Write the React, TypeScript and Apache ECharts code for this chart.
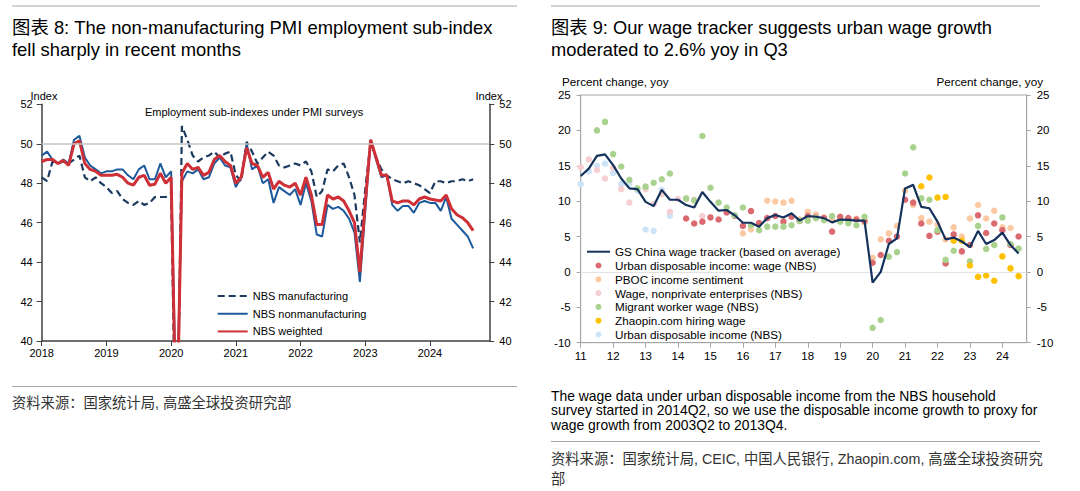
import React, { useEffect, useRef } from "react";
import * as echarts from "echarts";

// ---------- Chart 8 data (monthly, Jan 2018 - Sep 2024) ----------
const pmiYears = [2018, 2019, 2020, 2021, 2022, 2023, 2024];
const pmiMonths = pmiYears.flatMap((y) =>
  Array.from({ length: 12 }, (_, i) => `${y}-${String(i + 1).padStart(2, "0")}`)
);

const nbsManufacturing = [
  48.3, 48.1, 49.1, 49.0, 49.1, 49.0, 49.2, 49.4, 48.3, 48.1, 48.3, 48.0,
  47.8, 47.5, 47.6, 47.2, 47.0, 46.9, 47.1, 46.9, 47.0, 47.3, 47.3, 47.3,
  47.5, 31.8, 50.9, 50.2, 49.4, 49.1, 49.3, 49.4, 49.6, 49.3, 49.5, 49.6,
  48.4, 48.1, 50.1, 49.6, 49.0, 49.3, 49.6, 49.4, 48.9, 48.8, 48.9, 49.0,
  48.9, 49.1, 48.6, 47.3, 47.6, 48.7, 48.6, 48.9, 49.0, 48.3, 47.4, 45.0,
  47.7, 50.1, 49.3, 48.7, 48.4, 48.2, 48.1, 48.0, 48.1, 48.0, 47.9, 47.7,
  47.5, 48.1, 48.1, 48.0, 48.1, 48.1, 48.2, 48.1, 48.2,
];
const nbsNonmanufacturing = [
  49.4, 49.6, 49.2, 49.0, 49.2, 49.0, 50.2, 50.4, 49.3, 48.9, 48.7, 48.5,
  48.6, 48.6, 48.7, 48.7, 48.4, 48.2, 48.7, 48.9, 48.2, 48.2, 49.0, 48.3,
  48.6, 35.7, 48.1, 48.6, 48.5, 48.7, 48.2, 48.3, 49.0, 49.3, 48.9, 48.8,
  47.8, 48.3, 50.0, 48.7, 48.9, 48.0, 48.2, 47.0, 47.8, 47.6, 47.4, 47.7,
  46.9, 48.0, 47.1, 45.4, 45.3, 46.9, 46.7, 46.8, 46.6, 46.2, 45.5, 43.0,
  46.6, 50.2, 49.2, 48.3, 48.4, 46.9, 46.6, 46.85, 46.85, 46.5, 47.0, 47.1,
  47.0, 47.0, 46.6, 47.3, 46.2, 45.9, 45.6, 45.3, 44.7,
];
const nbsWeighted = [
  49.1, 49.2, 49.2, 49.0, 49.15, 48.9, 50.0, 50.15, 49.0, 48.7, 48.6, 48.4,
  48.4, 48.4, 48.45, 48.3, 48.0, 47.9, 48.3, 48.4, 47.9, 47.95, 48.5, 48.0,
  48.3, 34.5, 48.5, 49.0, 48.7, 48.8, 48.4, 48.55, 49.2, 49.4, 49.1, 48.9,
  48.0, 48.3, 49.8, 49.0, 48.9, 48.3, 48.55, 47.7, 48.1, 47.9, 47.8, 48.0,
  47.4, 48.3, 47.4, 45.9, 45.9, 47.4, 47.2, 47.3, 47.1, 46.6, 46.0, 43.5,
  47.0, 50.2, 49.3, 48.4, 48.4, 47.1, 47.0, 47.1, 47.1, 46.9, 47.2, 47.3,
  47.2, 47.15, 47.1, 47.4, 46.7, 46.4, 46.25, 46.0, 45.6,
];

// ---------- Chart 9 data (quarterly, 2011Q1 - 2024Q3) ----------
const wageYears = [2011, 2012, 2013, 2014, 2015, 2016, 2017, 2018, 2019, 2020, 2021, 2022, 2023, 2024];
const wageQuarters = wageYears.flatMap((y) => [1, 2, 3, 4].map((q) => `${y}Q${q}`));

const wageTracker = [
  13.55, 14.6, 16.4, 16.6, 15.1, 13.2, 11.8, 11.7, 9.9, 9.3,
  11.6, 10.2, 10.2, 9.45, 9.1, 11.3, 9.9, 8.65, 8.75, 8.0,
  6.95, 6.95, 6.4, 7.6, 8.05, 7.7, 8.3, 7.25, 7.9, 7.8,
  7.6, 7.0, 7.4, 7.35, 7.25, 7.25, -1.5, 0.0, 3.95, 4.75,
  11.8, 12.3, 9.2, 9.0, 7.1, 4.6, 4.85, 4.3, 3.5, 5.8,
  3.95, 4.5, 5.55, 3.8, 2.6,
];
const urbanWageNbs = [
  null, null, null, null, null, null, null, null, null, null,
  null, null, null, 7.55, 6.85, 7.1, 7.7, 7.4, 8.4, 7.9,
  6.5, 8.6, 6.9, 7.6, 7.9, 7.1, 7.8, 7.2, 7.9, 7.7,
  7.6, 5.7, 7.8, 7.6, 7.4, 7.2, 1.3, 2.4, 4.4, 5.0,
  10.2, 9.8, 6.85, 5.1, 5.7, 1.2, 5.3, 2.9, 3.8, 8.0,
  5.5, 6.85, 5.9, 3.8, 5.0,
];
const pbocIncomeSentiment = [
  null, null, null, null, null, null, null, null, null, null,
  null, null, null, null, null, null, null, null, null, null,
  5.45, 6.0, 6.85, 10.05, 9.95, 9.8, 10.05, 7.4, 8.5, 8.1,
  7.7, 7.3, 7.6, 7.55, 7.5, 7.0, 2.0, 4.6, 5.45, 6.5,
  11.5, 9.45, 7.6, 7.1, 6.7, 4.6, 6.3, 5.0, 7.55, 9.45,
  7.55, 8.65, 6.3, 6.2, null,
];
const nonprivateWage = [
  14.8, 15.9, 14.4, 13.2, 14.7, 11.7, 9.8, null, 11.7, 9.6,
  11.0, 8.5, 10.3, 10.3, 10.2, 7.9,
];
const migrantWage = [
  null, null, 20.0, 21.2, 16.65, 14.9, 13.0, 11.8, 12.05, 12.6,
  13.1, 13.9, null, 10.4, 10.1, 19.2, 11.9, 9.8, 9.1, 8.0,
  9.1, 6.6, 5.9, 6.4, 6.4, 6.4, 6.6, 7.2, 7.25, 7.6,
  7.3, 7.9, 7.1, 6.9, 6.6, 7.8, -7.9, -6.8, 2.15, 2.8,
  13.9, 17.6, 10.4, 10.2, 5.9, 1.7, 3.0, null, 1.5, 6.5,
  3.25, 3.8, 7.7, 3.95, 3.3,
];
const zhaopinWage = [
  null, null, null, null, null, null, null, null, null, null,
  null, null, null, null, null, null, null, null, null, null,
  null, null, null, null, null, null, null, null, null, null,
  null, null, null, null, null, null, null, null, null, null,
  null, null, 12.1, 13.35, 10.5, 10.6, 4.4, 4.4, 0.9, -0.7,
  -0.5, -1.25, 2.2, 0.5, -0.6,
];
const urbanDisposableIncome = [12.4, 14.2, 15.0, 15.3, 14.0, 12.4, 12.5, 11.5, 6.0, 5.8, 11.6, 7.9];

const FONT = '"Liberation Sans", Arial, "Noto Sans CJK SC", sans-serif';
const toData = (arr: (number | null)[]) => arr.map((v) => (v === null ? "-" : v));

export default function App() {
  const ref = useRef<HTMLDivElement>(null);

  useEffect(() => {
    if (!ref.current) return;
    const chart = echarts.init(ref.current, undefined, { renderer: "svg" });

    const darkAxis = "#3f3f3f";
    const grayAxis = "#a6a6a6";

    const scatter = (name: string, data: (number | null)[], color: string, extra: any = {}) => ({
      name,
      type: "scatter",
      xAxisIndex: 1,
      yAxisIndex: 2,
      data: toData(data),
      symbol: "circle",
      symbolSize: 6.5,
      itemStyle: { color, opacity: 1 },
      emphasis: { disabled: true },
      ...extra,
    });

    const text = (t: string, x: number, y: number, size: number, extra: any = {}) => ({
      type: "text",
      x,
      y,
      silent: true,
      style: {
        text: t,
        fontSize: size,
        fontFamily: FONT,
        fill: "#000",
        verticalAlign: "middle",
        ...extra,
      },
    });
    const rule = (x1: number, x2: number, y: number) => ({
      type: "line",
      silent: true,
      shape: { x1, y1: y, x2, y2: y },
      style: { stroke: "#a6a6a6", lineWidth: 1 },
    });
    const noSymbol = { opacity: 0 };

    const option: any = {
      animation: false,
      backgroundColor: "#fff",
      textStyle: { fontFamily: FONT },
      grid: [
        { left: 41.7, top: 104.3, width: 447.6, height: 236.7 },
        {
          left: 580.7,
          top: 95,
          width: 446,
          height: 247.7,
          show: true,
          borderColor: grayAxis,
          borderWidth: 1,
        },
      ],
      xAxis: [
        {
          gridIndex: 0,
          type: "category",
          data: pmiMonths,
          boundaryGap: false,
          axisLine: { lineStyle: { color: darkAxis, width: 1.5 } },
          axisTick: { interval: (i: number) => i % 12 === 0, length: 5, lineStyle: { color: darkAxis } },
          axisLabel: {
            interval: (i: number) => i % 12 === 0,
            formatter: (v: string) => v.slice(0, 4),
            fontSize: 11,
            color: "#000",
            margin: 6,
            fontFamily: FONT,
          },
          splitLine: { show: false },
        },
        {
          gridIndex: 1,
          type: "category",
          data: wageQuarters,
          boundaryGap: false,
          axisLine: { onZero: false, lineStyle: { color: grayAxis, width: 1 } },
          axisTick: { interval: (i: number) => i % 4 === 0, length: 5, lineStyle: { color: grayAxis } },
          axisLabel: {
            interval: (i: number) => i % 4 === 0,
            formatter: (v: string) => v.slice(2, 4),
            fontSize: 11.5,
            color: "#000",
            margin: 8,
            fontFamily: FONT,
          },
          splitLine: { show: false },
        },
      ],
      yAxis: [
        {
          gridIndex: 0,
          type: "value",
          position: "left",
          min: 40,
          max: 52,
          interval: 2,
          axisLine: { show: true, lineStyle: { color: darkAxis, width: 1.5 } },
          axisTick: { show: true, length: 5, lineStyle: { color: darkAxis } },
          axisLabel: { fontSize: 11, color: "#000", margin: 9, fontFamily: FONT },
          splitLine: { show: false },
        },
        {
          gridIndex: 0,
          type: "value",
          position: "right",
          min: 40,
          max: 52,
          interval: 2,
          axisLine: { show: true, lineStyle: { color: darkAxis, width: 1.5 } },
          axisTick: { show: true, length: 5, lineStyle: { color: darkAxis } },
          axisLabel: { fontSize: 11, color: "#000", margin: 10, fontFamily: FONT },
          splitLine: { show: false },
        },
        {
          gridIndex: 1,
          type: "value",
          position: "left",
          min: -10,
          max: 25,
          interval: 5,
          axisLine: { show: true, onZero: false, lineStyle: { color: grayAxis } },
          axisTick: { show: true, length: 4, lineStyle: { color: grayAxis } },
          axisLabel: { fontSize: 11.5, color: "#000", margin: 10, fontFamily: FONT },
          splitLine: { show: false },
        },
        {
          gridIndex: 1,
          type: "value",
          position: "right",
          min: -10,
          max: 25,
          interval: 5,
          axisLine: { show: true, onZero: false, lineStyle: { color: grayAxis } },
          axisTick: { show: true, length: 4, lineStyle: { color: grayAxis } },
          axisLabel: { fontSize: 11.5, color: "#000", margin: 10, fontFamily: FONT },
          splitLine: { show: false },
        },
      ],
      legend: [
        {
          orient: "vertical",
          left: 216.7,
          top: 287.2,
          padding: 0,
          itemWidth: 30,
          itemHeight: 12,
          itemGap: 0,
          selectedMode: false,
          textStyle: { fontSize: 11, lineHeight: 17.7, color: "#000", fontFamily: FONT },
          data: [
            { name: "NBS manufacturing", itemStyle: noSymbol },
            { name: "NBS nonmanufacturing", itemStyle: noSymbol },
            { name: "NBS weighted", itemStyle: noSymbol },
          ],
        },
        {
          orient: "vertical",
          left: 586,
          top: 244.8,
          padding: [0, 4, 0, 0],
          backgroundColor: "#fff",
          itemWidth: 23,
          itemHeight: 6,
          itemGap: 0,
          selectedMode: false,
          textStyle: { fontSize: 11.7, lineHeight: 13.8, color: "#000", fontFamily: FONT },
          data: [
            { name: "GS China wage tracker (based on average)", itemStyle: noSymbol },
            "Urban disposable income: wage (NBS)",
            "PBOC income sentiment",
            "Wage, nonprivate enterprises (NBS)",
            "Migrant worker wage (NBS)",
            "Zhaopin.com hiring wage",
            "Urban disposable income (NBS)",
          ],
        },
      ],
      series: [
        {
          name: "NBS manufacturing",
          type: "line",
          xAxisIndex: 0,
          yAxisIndex: 0,
          data: nbsManufacturing,
          symbol: "none",
          clip: true,
          lineStyle: { color: "#1b3a60", width: 2.2, type: [7, 4] },
          itemStyle: { color: "#1b3a60" },
          emphasis: { disabled: true },
          markLine: {
            silent: true,
            symbol: "none",
            label: { show: false },
            lineStyle: { color: "#c4c4c4", width: 1.5, type: "solid" },
            data: [{ yAxis: 50 }],
          },
        },
        {
          name: "NBS nonmanufacturing",
          type: "line",
          xAxisIndex: 0,
          yAxisIndex: 0,
          data: nbsNonmanufacturing,
          symbol: "none",
          clip: true,
          lineStyle: { color: "#1d5a9b", width: 2 },
          itemStyle: { color: "#1d5a9b" },
          emphasis: { disabled: true },
        },
        {
          name: "NBS weighted",
          type: "line",
          xAxisIndex: 0,
          yAxisIndex: 0,
          data: nbsWeighted,
          symbol: "none",
          clip: true,
          lineStyle: { color: "#cf2f36", width: 3 },
          itemStyle: { color: "#cf2f36" },
          emphasis: { disabled: true },
        },
        scatter("Urban disposable income (NBS)", urbanDisposableIncome, "#cde4f8", {
          markLine: {
            silent: true,
            symbol: "none",
            label: { show: false },
            lineStyle: { color: "#e2e2e2", width: 1, type: "solid" },
            data: [{ yAxis: 0 }],
          },
        }),
        scatter("Wage, nonprivate enterprises (NBS)", nonprivateWage, "#f6cfd2"),
        scatter("PBOC income sentiment", pbocIncomeSentiment, "#fbc9a2"),
        scatter("Urban disposable income: wage (NBS)", urbanWageNbs, "#da6a70"),
        scatter("Migrant worker wage (NBS)", migrantWage, "#a9d28e"),
        scatter("Zhaopin.com hiring wage", zhaopinWage, "#ffc000"),
        {
          name: "GS China wage tracker (based on average)",
          type: "line",
          xAxisIndex: 1,
          yAxisIndex: 2,
          data: wageTracker,
          symbol: "none",
          lineStyle: { color: "#14325c", width: 2.2 },
          itemStyle: { color: "#14325c" },
          emphasis: { disabled: true },
          z: 5,
        },
      ],
      graphic: [
        rule(12, 517, 6),
        rule(551, 1040, 6),
        text("图表 8: The non-manufacturing PMI employment sub-index", 12, 27.5, 18.4),
        text("fell sharply in recent months", 12, 49.5, 18.4),
        text("图表 9: Our wage tracker suggests urban wage growth", 551, 27.5, 18.3),
        text("moderated to 2.6% yoy in Q3", 551, 49.5, 18.3),
        text("Index", 44, 95.5, 11, { textAlign: "center" }),
        text("Index", 489, 95.5, 11, { textAlign: "center" }),
        text("Employment sub-indexes under PMI surveys", 254, 112, 11, { textAlign: "center" }),
        text("Percent change, yoy", 562, 81, 11.7),
        text("Percent change, yoy", 1043, 81, 11.7, { textAlign: "right" }),
        rule(12, 517, 386.5),
        text("资料来源：国家统计局, 高盛全球投资研究部", 12, 403, 14.3, { fill: "#333" }),
        text("The wage data under urban disposable income from the NBS household", 551, 396.2, 13.9),
        text("survey started in 2014Q2, so we use the disposable income growth to proxy for", 551, 410.4, 13.9),
        text("wage growth from 2003Q2 to 2013Q4.", 551, 424.6, 13.9),
        rule(551, 1040, 441.5),
        text("资料来源：国家统计局, CEIC, 中国人民银行, Zhaopin.com, 高盛全球投资研究", 551, 458.5, 14.3, { fill: "#333" }),
        text("部", 551, 478.5, 14.3, { fill: "#333" }),
      ],
    };

    chart.setOption(option);
    return () => chart.dispose();
  }, []);

  return (
    <div
      ref={ref}
      style={{ position: "fixed", left: 0, top: 0, width: 1080, height: 491, background: "#fff" }}
    />
  );
}
